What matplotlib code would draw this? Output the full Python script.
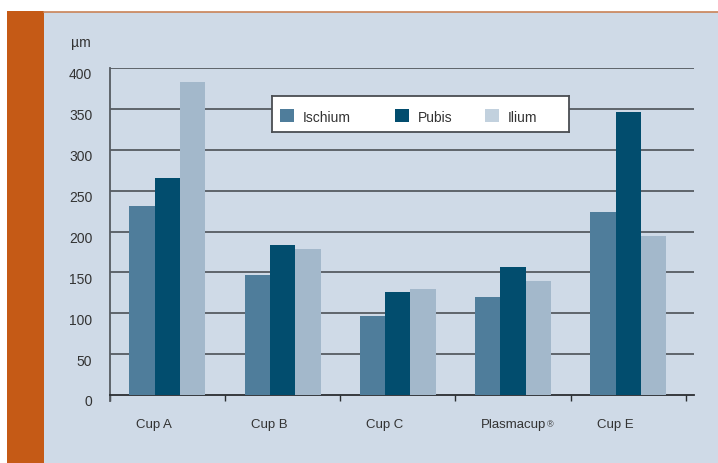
import matplotlib
matplotlib.use("Agg")
import matplotlib.pyplot as plt
import numpy as np
from matplotlib.patches import Rectangle
from matplotlib.transforms import ScaledTranslation

# Mean values (µm) per cup type and bone region
cups = ["Cup A", "Cup B", "Cup C", "Plasmacup", "Cup E"]
cup_marks = ["", "", "", "®", ""]
ischium = [231, 147, 97, 120, 224]
pubis = [266, 184, 126, 157, 346]
ilium = [383, 178, 130, 140, 195]
series_names = ["Ischium", "Pubis", "Ilium"]
y_ticks = [0, 50, 100, 150, 200, 250, 300, 350, 400]

c_isc = "#4f7d9b"
c_pub = "#024d6e"
c_ili = "#a3b8cb"
c_ili_key = "#c2d1de"
panel = "#cfdae7"
orange = "#c55a16"
grid_c = "#565b62"
text_c = "#333333"

W, H = 718, 464
fig = plt.figure(figsize=(W / 100, H / 100), dpi=100)
fig.patch.set_facecolor("white")

# background panel, side stripe and top rule (pixel coordinates)
bg = fig.add_axes([0, 0, 1, 1])
bg.set_xlim(0, W)
bg.set_ylim(H, 0)
bg.axis("off")
bg.add_patch(Rectangle((44, 13), W - 44, H - 13, color=panel, lw=0))
bg.add_patch(Rectangle((7, 12), 37, H - 12, color=orange, lw=0))
bg.plot([44, W], [12.5, 12.5], color="#c98357", lw=1.2)

font = "Liberation Sans"

# main chart area
x0, x1 = 109.7, 694
y_top, y_bot = 69, 396
ax = fig.add_axes([x0 / W, 1 - y_bot / H, (x1 - x0) / W, (y_bot - y_top) / H])
ax.set_facecolor("none")
ax.set_xlim(0, 5.07)
ax.set_ylim(0, 400)

x = np.arange(len(cups)) + 0.5
bw = 0.22
ax.bar(x - bw, ischium, bw, color=c_isc, zorder=3)
ax.bar(x, pubis, bw, color=c_pub, zorder=3)
ax.bar(x + bw, ilium, bw, color=c_ili, zorder=3)

for v in y_ticks[1:]:
    ax.axhline(v, color=grid_c, lw=1.3, zorder=1)

for s in ["top", "right"]:
    ax.spines[s].set_visible(False)
ax.spines["left"].set_color(grid_c)
ax.spines["left"].set_linewidth(1.3)
ax.spines["left"].set_bounds(-7, 400)
ax.spines["bottom"].set_color("#2a2d31")
ax.spines["bottom"].set_linewidth(1.3)

ax.set_xticks(np.arange(6))
ax.set_xticklabels([])
ax.tick_params(axis="x", direction="out", length=4, width=1.0, color="#2a2d31")

ax.set_yticks(y_ticks)
ax.set_yticklabels([str(v) for v in y_ticks], fontfamily=font, fontsize=10,
                   color=text_c)
ax.tick_params(axis="y", length=0, pad=12.5)
shift = ScaledTranslation(0, -5 / 100, fig.dpi_scale_trans)
for lab in ax.get_yticklabels():
    lab.set_transform(lab.get_transform() + shift)

# category labels, left-aligned within each slot
for i, (name, mark) in enumerate(zip(cups, cup_marks)):
    t = ax.text(i + 0.225, -36, name, ha="left", va="center", fontfamily=font,
                fontsize=9.5, color=text_c, clip_on=False)
    if mark:
        ax.annotate(mark, xy=(1, 0.55), xycoords=t, xytext=(0.5, 0),
                    textcoords="offset points", ha="left", va="center",
                    fontfamily=font, fontsize=6.5, color=text_c)

bg.text(91, 43, "µm", ha="right", va="center", fontfamily=font,
        fontsize=10, color=text_c)

# legend box
lx0, lx1, ly0, ly1 = 272, 569, 97, 133
lg = fig.add_axes([lx0 / W, 1 - ly1 / H, (lx1 - lx0) / W, (ly1 - ly0) / H])
lg.set_xlim(lx0, lx1)
lg.set_ylim(ly1, ly0)
lg.set_facecolor("white")
lg.set_xticks([])
lg.set_yticks([])
for s in lg.spines.values():
    s.set_color("#4a4d52")
    s.set_linewidth(1.3)
keys = [(280, c_isc), (395, c_pub), (485, c_ili_key)]
for (kx, kc), name in zip(keys, series_names):
    lg.add_patch(Rectangle((kx, 110), 14, 13, color=kc, lw=0))
    lg.text(kx + 23, 118.5, name, ha="left", va="center", fontfamily=font,
            fontsize=10, color=text_c)

fig.savefig("out.png", dpi=100, facecolor="white")
